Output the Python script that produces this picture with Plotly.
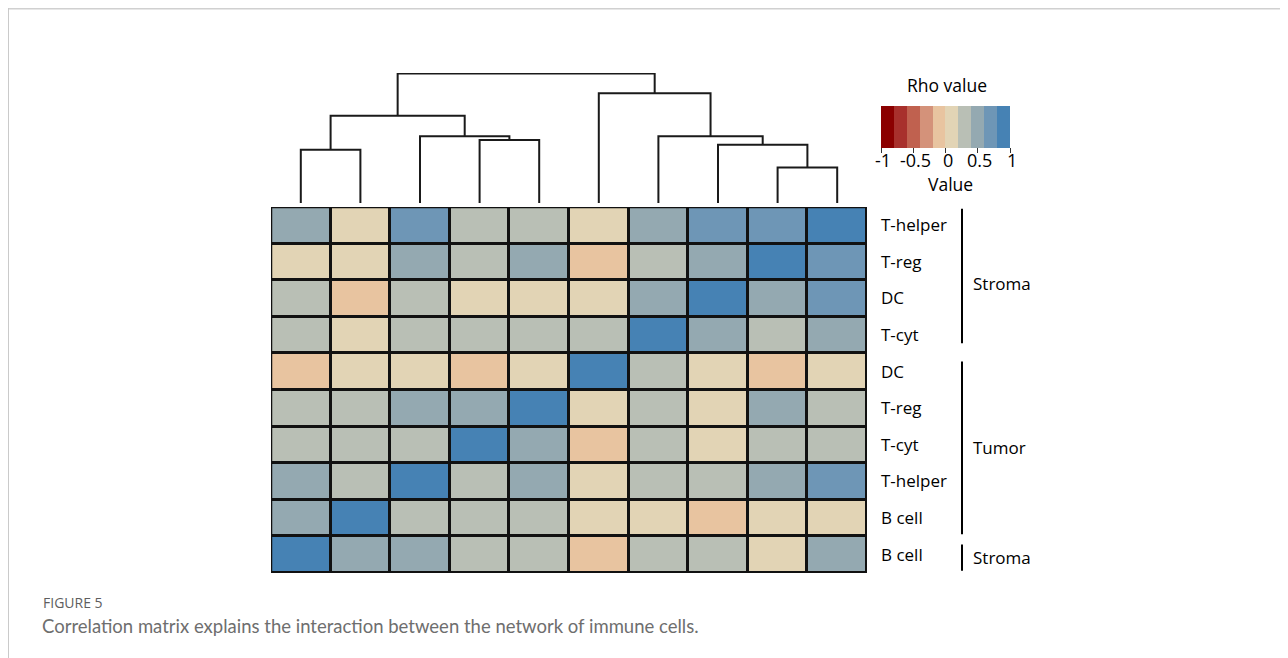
import plotly.graph_objects as go

# ---------------- data ----------------
row_labels = ["T-helper", "T-reg", "DC", "T-cyt", "DC", "T-reg", "T-cyt", "T-helper", "B cell", "B cell"]
row_groups = ["Stroma", "Stroma", "Stroma", "Stroma", "Tumor", "Tumor", "Tumor", "Tumor", "Tumor", "Stroma"]
col_labels = ["B cell (Stroma)", "B cell (Tumor)", "T-helper (Tumor)", "T-cyt (Tumor)", "T-reg (Tumor)",
              "DC (Tumor)", "T-cyt (Stroma)", "DC (Stroma)", "T-reg (Stroma)", "T-helper (Stroma)"]

rho = [
    [0.5, 0.1, 0.7, 0.3, 0.3, 0.1, 0.5, 0.7, 0.7, 1.0],
    [0.1, 0.1, 0.5, 0.3, 0.5, -0.1, 0.3, 0.5, 1.0, 0.7],
    [0.3, -0.1, 0.3, 0.1, 0.1, 0.1, 0.5, 1.0, 0.5, 0.7],
    [0.3, 0.1, 0.3, 0.3, 0.3, 0.3, 1.0, 0.5, 0.3, 0.5],
    [-0.1, 0.1, 0.1, -0.1, 0.1, 1.0, 0.3, 0.1, -0.1, 0.1],
    [0.3, 0.3, 0.5, 0.5, 1.0, 0.1, 0.3, 0.1, 0.5, 0.3],
    [0.3, 0.3, 0.3, 1.0, 0.5, -0.1, 0.3, 0.1, 0.3, 0.3],
    [0.5, 0.3, 1.0, 0.3, 0.5, 0.1, 0.3, 0.3, 0.5, 0.7],
    [0.5, 1.0, 0.3, 0.3, 0.3, 0.1, 0.1, -0.1, 0.1, 0.1],
    [1.0, 0.5, 0.5, 0.3, 0.3, -0.1, 0.3, 0.3, 0.1, 0.5],
]

# dendrogram merges over columns: (left child, right child, height); nodes >= 10 are earlier merges
merges = [
    (0, 1, 53.0),     # 10
    (3, 4, 62.7),     # 11
    (2, 11, 66.4),    # 12
    (10, 12, 87.0),   # 13
    (8, 9, 35.4),     # 14
    (7, 14, 58.0),    # 15
    (6, 15, 66.4),    # 16
    (5, 16, 109.4),   # 17
    (13, 17, 129.0),  # 18
]

cbar_ticks = [-1, -0.5, 0, 0.5, 1]
cbar_ticktext = ["-1", "-0.5", "0", "0.5", "1"]

palette = ["#8B0000", "#A8302C", "#C0614F", "#D4927A", "#E8C4A0",
           "#E2D4B5", "#B9BFB5", "#94A9B1", "#6E96B6", "#4682B4"]

# page body has an 8px margin: figure is 1280x650 placed at (8,8)
OFF = 8
W, H = 1280, 650

def px_x(p):
    return (p - OFF) / W

def px_y(p):
    return 1 - (p - OFF) / H

# discrete colorscale
cs = []
n = len(palette)
for i, c in enumerate(palette):
    cs.append([i / n, c])
    cs.append([(i + 1) / n, c])

cb_x0, cb_x1 = 881, 1010
cb_y0, cb_y1 = 106, 148

fig = go.Figure()

fig.add_trace(go.Heatmap(
    z=rho, x=list(range(10)), y=list(range(10)),
    zmin=-1, zmax=1, colorscale=cs,
    xgap=3, ygap=3,
    text=[[f"{row_labels[r]} ({row_groups[r]}) vs {col_labels[c]}" for c in range(10)] for r in range(10)],
    hovertemplate="%{text}<br>rho=%{z}<extra></extra>",
    colorbar=dict(
        orientation="h",
        x=px_x((cb_x0 + cb_x1) / 2), xanchor="center",
        y=px_y(cb_y0), yanchor="top",
        len=cb_x1 - cb_x0, lenmode="pixels",
        thickness=cb_y1 - cb_y0, thicknessmode="pixels",
        xpad=0, ypad=0,
        outlinewidth=0,
        tickvals=cbar_ticks,
        ticks="outside", ticklen=5, tickcolor="#333", tickwidth=1,
        showticklabels=False,
        title=dict(text=""),
    ),
))

# dendrogram
pos = {i: float(i) for i in range(10)}
hgt = {i: 0.0 for i in range(10)}
for k, (a, b, h) in enumerate(merges):
    node = 10 + k
    xa, xb = pos[a], pos[b]
    fig.add_trace(go.Scatter(
        x=[xa, xa, xb, xb], y=[hgt[a], h, h, hgt[b]],
        mode="lines", line=dict(color="#1a1a1a", width=2),
        xaxis="x2", yaxis="y2", hoverinfo="skip", showlegend=False,
    ))
    pos[node] = (xa + xb) / 2
    hgt[node] = h

hm_x0, hm_x1 = 271, 867
hm_y0, hm_y1 = 207, 573

fig.update_layout(
    width=W, height=H,
    margin=dict(l=0, r=0, t=0, b=0),
    paper_bgcolor="white",
    plot_bgcolor="white",
    font=dict(family="Open Sans", color="#000"),
    xaxis=dict(domain=[px_x(hm_x0), px_x(hm_x1)], range=[-0.5, 9.5],
               showticklabels=False, showgrid=False, zeroline=False, ticks=""),
    yaxis=dict(domain=[px_y(hm_y1), px_y(hm_y0)], range=[9.5, -0.5],
               side="right", tickvals=list(range(10)), ticktext=row_labels,
               tickfont=dict(size=17, color="#000"), ticks="", ticklabelstandoff=13,
               showgrid=False, zeroline=False),
    xaxis2=dict(domain=[px_x(hm_x0), px_x(hm_x1)], range=[-0.5, 9.5], anchor="y2",
                visible=False),
    yaxis2=dict(domain=[px_y(203), px_y(73)], range=[0, 129.5], anchor="x2",
                visible=False),
    showlegend=False,
)

shapes = []
annotations = []
# black background behind cells (shows through the gaps)
shapes.append(dict(type="rect", xref="x", yref="y", x0=-0.5, x1=9.5, y0=-0.5, y1=9.5,
                   layer="below", line=dict(width=0), fillcolor="#111111"))
# heatmap frame
shapes.append(dict(type="rect", xref="x", yref="y", x0=-0.5, x1=9.5, y0=-0.5, y1=9.5,
                   line=dict(color="#111", width=2.5), fillcolor="rgba(0,0,0,0)"))

# group brackets
spans = []
start = 0
for i in range(1, len(row_groups) + 1):
    if i == len(row_groups) or row_groups[i] != row_groups[start]:
        spans.append((row_groups[start], start, i - 1))
        start = i
for name, r0, r1 in spans:
    y0 = r0 - (0.45 if r0 == 0 else 0.28)
    y1 = r1 + (0.22 if r0 == 0 else 0.44)
    shapes.append(dict(type="line", xref="paper", yref="y",
                       x0=px_x(962), x1=px_x(962), y0=y0, y1=y1,
                       line=dict(color="#000", width=2)))
    annotations.append(dict(text=name, xref="paper", yref="y",
                            x=px_x(971), y=(r0 + r1) / 2 + 0.08, xanchor="left", yanchor="middle",
                            showarrow=False, font=dict(size=17, color="#000")))

# colorbar tick labels
for v, t in zip(cbar_ticks, cbar_ticktext):
    xp = cb_x0 + (v + 1) / 2 * (cb_x1 - cb_x0) + 2
    annotations.append(dict(text=t, xref="paper", yref="paper", x=px_x(xp), y=px_y(160),
                            xanchor="center", yanchor="middle", showarrow=False,
                            font=dict(size=18, color="#000")))

# colorbar titles
annotations.append(dict(text="Rho value", xref="paper", yref="paper", x=px_x(947), y=px_y(85),
                        xanchor="center", yanchor="middle", showarrow=False,
                        font=dict(size=17.5, color="#000")))
annotations.append(dict(text="Value", xref="paper", yref="paper", x=px_x(950), y=px_y(184),
                        xanchor="center", yanchor="middle", showarrow=False,
                        font=dict(size=17.5, color="#000")))

# outer frame (page border)
shapes.append(dict(type="line", xref="paper", yref="paper", x0=0, x1=1.0, y0=px_y(8.7), y1=px_y(8.7),
                   line=dict(color="#d0d0d0", width=1.5)))
shapes.append(dict(type="line", xref="paper", yref="paper", x0=px_x(8.2), x1=px_x(8.2), y0=px_y(8), y1=0,
                   line=dict(color="#c8c8c8", width=1.5)))

# caption
annotations.append(dict(text="FIGURE 5", xref="paper", yref="paper", x=px_x(41), y=px_y(602),
                        xanchor="left", yanchor="middle", showarrow=False,
                        font=dict(size=14, color="#5e5e5e", family="Open Sans")))
annotations.append(dict(text="Correlation matrix explains the interaction between the network of immune cells.",
                        xref="paper", yref="paper", x=px_x(40), y=px_y(626),
                        xanchor="left", yanchor="middle", showarrow=False,
                        font=dict(size=18.5, color="#6e6e6e", family="Lato")))

fig.update_layout(shapes=shapes, annotations=annotations)

fig.write_html("out.html")
